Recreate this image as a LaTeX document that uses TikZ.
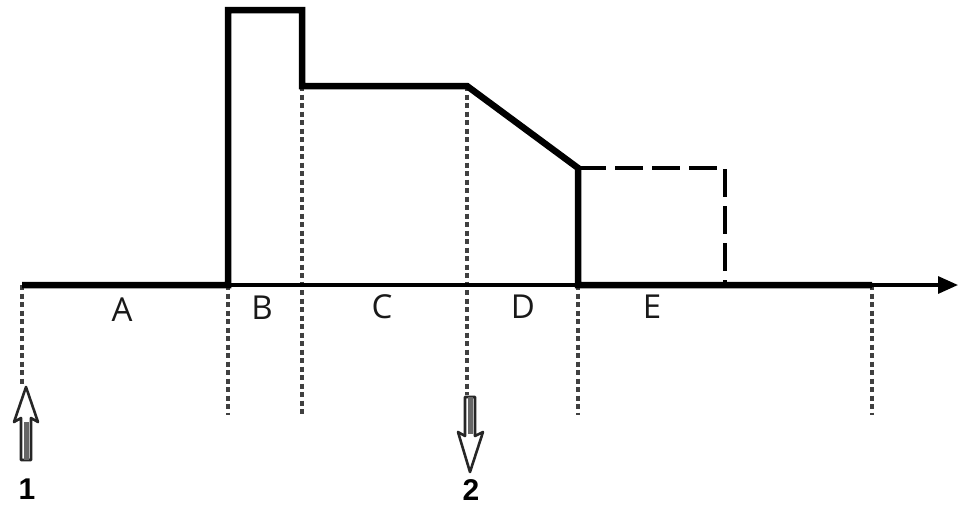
\documentclass[tikz,border=0pt]{standalone}
\usepackage{fontspec}
\setmainfont{Open Sans}
\newfontfamily\numfont{Liberation Sans}
\usetikzlibrary{arrows.meta}
\tikzset{
  profile/.style={line width=6.5pt, line join=miter},
  axisline/.style={line width=3.2pt, -{Triangle[length=20pt,width=17pt]}},
  guide/.style={line width=3.2pt, dash pattern=on 5pt off 3.5pt, black!75},
  dashprof/.style={line width=3.8pt, dash pattern=on 28pt off 9pt},
  lab/.style={font=\fontsize{33}{33}\selectfont, text=black!90},
  num/.style={font=\numfont\bfseries\fontsize{30}{30}\selectfont, inner sep=0pt},
  hollow/.style={line width=2.6pt, fill=white, draw=black!85, line join=round}
}
\begin{document}
\begin{tikzpicture}[x=1pt,y=-1pt]
\useasboundingbox (0,0) rectangle (966,506);
% key points
\coordinate (o) at (22,285);
\coordinate (b0) at (228,285);
\coordinate (b1) at (228,10);
\coordinate (c1) at (302,10);
\coordinate (c2) at (302,86);
\coordinate (d1) at (467,86);
\coordinate (e1) at (578,168);
\coordinate (e0) at (578,285);
\coordinate (f1) at (725,168);
\coordinate (f0) at (725,285);
\coordinate (g0) at (872,285);
\coordinate (ax) at (958,285);
% guides
\draw[guide] (o) -- (22,385);
\draw[guide] (b0) -- (228,415);
\draw[guide] (c2) -- (302,415);
\draw[guide] (d1) -- (467,395);
\draw[guide] (e0) -- (578,415);
\draw[guide] (g0) -- (872,415);
% axis
\draw[axisline] (o) -- (ax);
% profile
\draw[profile] (o) -- (b0) -- (b1) -- (c1) -- (c2) -- (d1) -- (e1) -- (e0) -- (g0);
\draw[dashprof] (e1) -- (f1) -- (f0);
% labels
\node[lab] (la) at (122,310) {A};
\node[lab] (lb) at (262,308) {B};
\node[lab] (lc) at (382,307) {C};
\node[lab] (ld) at (523,307) {D};
\node[lab] (le) at (652,307) {E};
% arrow 1 (up)
\draw[hollow] (21,460) -- (21,418) -- (14,422) -- (26,387) -- (38,422) -- (31,418) -- (31,460) -- cycle;
\fill[black!60] (23.5,422) rectangle (28.5,460);
% arrow 2 (down)
\draw[hollow] (465,397) -- (465,436) -- (458,432) -- (470,472) -- (483,432) -- (475,436) -- (475,397) -- cycle;
\fill[black!60] (467.5,397) rectangle (472.5,434);
\node[num] (n1) at (27,489) {1};
\node[num] (n2) at (471,490) {2};
\end{tikzpicture}
\end{document}
